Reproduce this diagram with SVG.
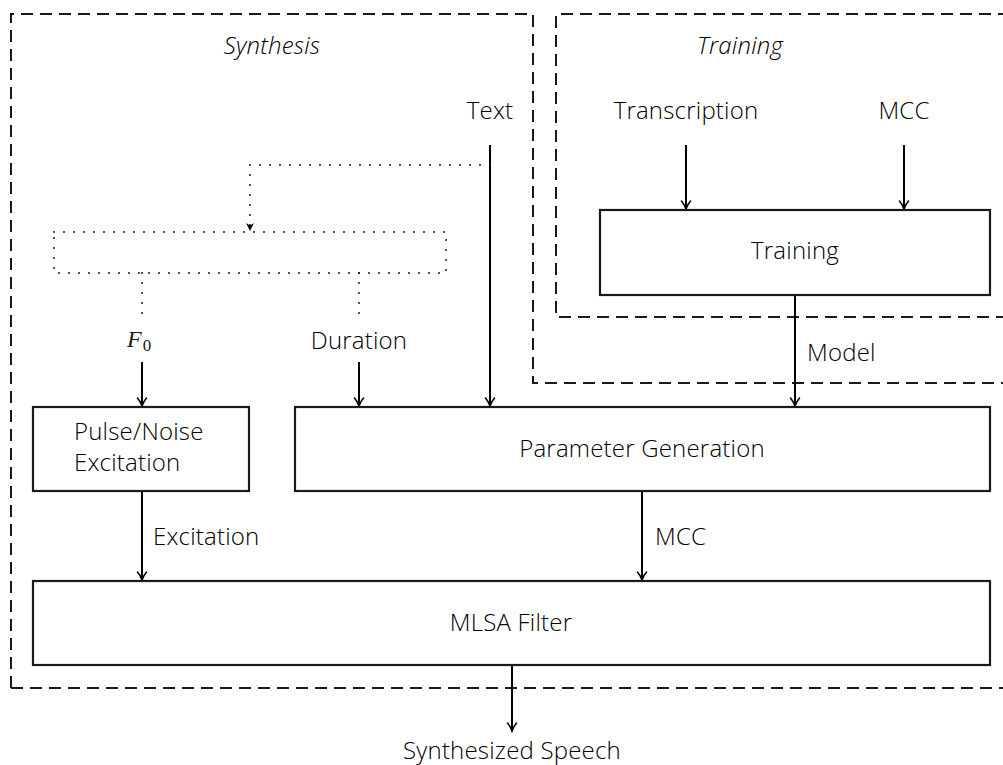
<svg xmlns="http://www.w3.org/2000/svg" width="1003" height="765" viewBox="0 0 1003 765">
  <style>
    text { font-family: "Open Sans", "Noto Sans", "DejaVu Sans", sans-serif; font-size: 24px; font-weight: 300; fill: #000000; letter-spacing: 0.2px; }
    .title { font-style: italic; }
    .mid { text-anchor: middle; }
    .box { fill: #ffffff; stroke: #1a1a1a; stroke-width: 2.2; }
    .region { fill: none; stroke: #1a1a1a; stroke-width: 2; stroke-dasharray: 12 7; }
    .flow { fill: none; stroke: #000000; stroke-width: 2; marker-end: url(#head); }
    .dots { fill: none; stroke: #1a1a1a; stroke-width: 2; stroke-dasharray: 0 10; stroke-linecap: round; }
    text.math, text.math tspan { font-family: "Liberation Serif", "DejaVu Serif", serif; font-weight: normal; letter-spacing: 0; fill: #1a1a1a; }
  </style>
  <defs>
    <marker id="head" markerUnits="userSpaceOnUse" viewBox="-10 -6 12 12" refX="0" refY="0" markerWidth="12" markerHeight="12" orient="auto">
      <path d="M -8,-4.5 C -5,-2 -1.5,-0.5 0,0 C -1.5,0.5 -5,2 -8,4.5" fill="none" stroke="#000" stroke-width="1.6" stroke-linecap="round"/>
    </marker>
    <marker id="smallhead" markerUnits="userSpaceOnUse" viewBox="-8 -5 10 10" refX="0" refY="0" markerWidth="10" markerHeight="10" orient="auto">
      <path d="M 0,0 L -8,-4 L -5.5,0 L -8,4 Z" fill="#000"/>
    </marker>
  </defs>

  <!-- dashed regions -->
  <g id="synthesis-region">
    <path class="region" d="M 11,688 L 11,14 L 533,14 L 533,383 L 1010,383 M 11,688 L 1010,688"/>
    <text class="title mid" x="272" y="54">Synthesis</text>
  </g>
  <g id="training-region">
    <path class="region" d="M 1010,14 L 556,14 L 556,317 L 1010,317"/>
    <text class="title mid" x="740" y="54">Training</text>
  </g>

  <!-- connectors -->
  <g id="connectors">
    <path class="flow" d="M 490,145 L 490,406"/>
    <path class="flow" d="M 686,145 L 686,209"/>
    <path class="flow" d="M 904,145 L 904,209"/>
    <path class="flow" d="M 795,295 L 795,406"/>
    <path class="flow" d="M 142,362 L 142,406"/>
    <path class="flow" d="M 359,362 L 359,406"/>
    <path class="flow" d="M 142,491 L 142,580"/>
    <path class="flow" d="M 642,491 L 642,580"/>
    <path class="flow" d="M 512,665 L 512,731"/>
    <!-- dotted context path -->
    <path class="dots" d="M 490,165 L 250,165 L 250,226"/>
    <path d="M 250,224 L 250,231" fill="none" stroke="none" marker-end="url(#smallhead)"/>
    <rect class="dots" x="54" y="232" width="392" height="41"/>
    <path class="dots" d="M 142,273 L 142,318"/>
    <path class="dots" d="M 359,273 L 359,318"/>
  </g>

  <!-- input / output labels -->
  <g id="labels">
    <text class="mid" x="490" y="119">Text</text>
    <text class="mid" x="686" y="119">Transcription</text>
    <text class="mid" x="904" y="119">MCC</text>
    <text x="807" y="361">Model</text>
    <text class="mid" x="359" y="349">Duration</text>
    <text x="153" y="545">Excitation</text>
    <text x="655" y="545">MCC</text>
    <text class="mid" x="512" y="759">Synthesized Speech</text>
    <text class="math" x="127" y="347" font-size="24"><tspan font-style="italic">F</tspan><tspan font-size="17" dx="1" dy="4">0</tspan></text>
  </g>

  <!-- processing blocks -->
  <g id="training">
    <rect class="box" x="600" y="210" width="390" height="85"/>
    <text class="mid" x="795" y="259">Training</text>
  </g>
  <g id="pulse-noise">
    <rect class="box" x="33" y="407" width="216" height="84"/>
    <text x="74" y="440">Pulse/Noise</text>
    <text x="74" y="471">Excitation</text>
  </g>
  <g id="parameter-generation">
    <rect class="box" x="295" y="407" width="695" height="84"/>
    <text class="mid" x="642" y="457">Parameter Generation</text>
  </g>
  <g id="mlsa-filter">
    <rect class="box" x="33" y="581" width="957" height="84"/>
    <text class="mid" x="511" y="631">MLSA Filter</text>
  </g>
</svg>
